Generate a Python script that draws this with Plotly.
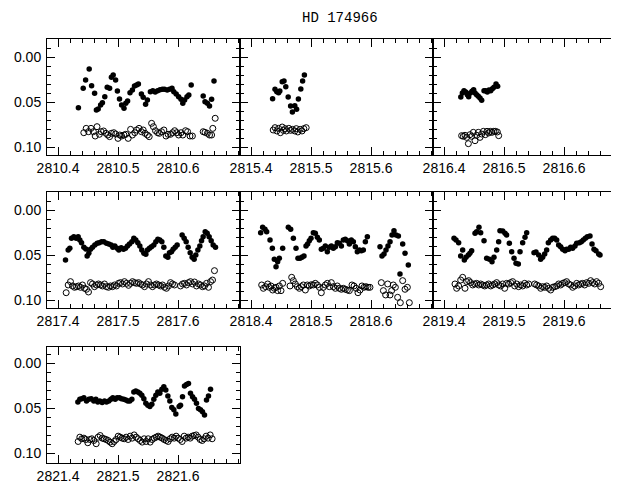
import plotly.graph_objects as go

# ---------------- data (fractional day, delta magnitude) ----------------
DAYS = [2810, 2815, 2816, 2817, 2818, 2819, 2821]
TITLE = "HD 174966"

p1_var_t = [.434,.442,.446,.452,.456,.461,.464,.467,.471,.474,.478,.482,.486,.489,.492,.496,.499,.5025,.506,.510,.513,.516,.520,.524,.5275,.531,.534,.539,.542,.546,.549,.554,.558,.562,.566,.570,.574,.5775,.582,.586,.590,.593,.597,.601,.605,.608,.611,.615,.618,.622,.642,.645,.649,.6525,.656,.660]
p1_var_m = [.0563,.0348,.0256,.0133,.0319,.0404,.0589,.0578,.0533,.0507,.0441,.0337,.0348,.0226,.0200,.0256,.0378,.0467,.0533,.0570,.0515,.0489,.0396,.0367,.0322,.0311,.0300,.0411,.0448,.0526,.0478,.0385,.0374,.0389,.0374,.0363,.0359,.0359,.0367,.0359,.0348,.0385,.0411,.0441,.0470,.0515,.0478,.0441,.0422,.0311,.0433,.0496,.0515,.0544,.0470,.0267]
p1_cmp_t = [.443,.447,.451,.455,.459,.462,.465,.469,.472,.476,.480,.483,.486,.489,.493,.496,.500,.503,.506,.510,.513,.517,.521,.524,.528,.531,.535,.539,.542,.545,.549,.552,.556,.559,.5625,.566,.569,.5725,.5765,.580,.5835,.5875,.591,.5945,.598,.601,.605,.608,.6125,.616,.620,.624,.642,.645,.649,.6525,.656,.658,.662]
p1_cmp_m = [.0841,.0793,.0830,.0793,.0830,.0878,.0774,.0859,.0830,.0822,.0848,.0867,.0885,.0848,.0841,.0856,.0904,.0867,.0878,.0867,.0859,.0904,.0804,.0867,.0841,.0811,.0793,.0830,.0811,.0848,.0867,.0885,.0737,.0774,.0819,.0841,.0848,.0830,.0811,.0878,.0859,.0859,.0841,.0819,.0841,.0867,.0841,.0867,.0819,.0830,.0878,.0878,.0830,.0837,.0848,.0867,.0867,.0793,.0681]

p2_var_t = [.436,.440,.443,.446,.448,.452,.455,.458,.462,.466,.469,.473,.476,.479,.483,.486,.489]
p2_var_m = [.0463,.0359,.0385,.0396,.0378,.0274,.0267,.0330,.0444,.0544,.0611,.0541,.0581,.0467,.0356,.0267,.0200]
p2_cmp_t = [.437,.440,.443,.446,.449,.452,.454,.457,.459,.463,.466,.469,.473,.4755,.478,.482,.485,.488,.492]
p2_cmp_m = [.0811,.0785,.0822,.0793,.0841,.0778,.0815,.0796,.0822,.0793,.0815,.0804,.0822,.0796,.0833,.0804,.0822,.0796,.0785]

p3_var_t = [.428,.4306,.4333,.4361,.4389,.4411,.4439,.4467,.4494,.4517,.4544,.4572,.46,.4628,.4667,.4694,.4722,.475,.4778,.4806,.4833,.4867,.4894]
p3_var_m = [.0444,.0400,.0374,.0389,.0419,.0441,.0400,.0381,.0363,.0400,.0419,.0437,.0456,.0481,.0374,.0374,.0389,.0367,.0374,.0352,.0337,.0300,.0326]
p3_cmp_t = [.4294,.4322,.435,.4378,.4406,.4433,.4461,.4489,.4517,.4544,.4572,.46,.4628,.4656,.4689,.4717,.4744,.4772,.48,.4828,.4856,.4889,.4911]
p3_cmp_m = [.0874,.0881,.0870,.0893,.0963,.0863,.0881,.0837,.0930,.0870,.0837,.0893,.0856,.0826,.0863,.0826,.0844,.0826,.0837,.0826,.0826,.0833,.0874]

p4_var_t = [.4125,.417,.4197,.4225,.4264,.4303,.4336,.4364,.4392,.4431,.4464,.4486,.4514,.4542,.4575,.4614,.4653,.4686,.4725,.4764,.4808,.4847,.4886,.4914,.4947,.4986,.5014,.5053,.5092,.5125,.5158,.5192,.5231,.5264,.5297,.5331,.5364,.5397,.5431,.5464,.5492,.5525,.5558,.5597,.5631,.5664,.5697,.5731,.5764,.5797,.5831,.5858,.5892,.5919,.5953,.5986,.6069,.6103,.6136,.6169,.6203,.6236,.6269,.6297,.6331,.6364,.6392,.6419,.6453,.6486,.6519,.6553,.6586,.6625]
p4_var_m = [.0556,.0444,.0426,.0315,.0296,.0315,.0296,.0333,.0363,.0415,.0433,.0511,.0481,.0437,.0415,.0389,.0370,.0363,.0352,.0352,.0370,.0378,.0389,.0415,.0400,.0426,.0444,.0419,.0437,.0426,.0400,.0378,.0352,.0315,.0333,.0363,.0400,.0444,.0481,.0493,.0444,.0426,.0407,.0389,.0352,.0326,.0333,.0352,.0415,.0511,.0526,.0474,.0463,.0437,.0415,.0389,.0278,.0315,.0352,.0415,.0474,.0526,.0548,.0500,.0444,.0400,.0341,.0296,.0241,.0259,.0296,.0341,.0389,.0415]
p4_cmp_t = [.4136,.417,.4208,.4242,.4275,.4308,.4342,.4375,.4408,.4442,.4475,.4508,.4542,.4575,.4608,.4642,.4675,.4708,.4742,.4775,.4808,.4842,.4875,.4908,.4942,.4975,.5008,.5042,.5075,.5108,.5142,.5175,.5208,.5242,.5275,.5308,.5342,.5375,.5408,.5442,.5475,.5508,.5542,.5575,.5608,.5642,.5675,.5708,.5742,.5775,.5808,.5842,.5875,.5908,.5942,.6042,.6075,.6108,.6142,.6175,.6208,.6242,.6275,.6308,.6342,.6375,.6408,.6442,.6475,.6508,.6542,.6575,.6608]
p4_cmp_m = [.0919,.0833,.0796,.0844,.0859,.0852,.0844,.0859,.0833,.0870,.0881,.0911,.0807,.0822,.0852,.0833,.0822,.0833,.0844,.0822,.0852,.0859,.0844,.0852,.0833,.0844,.0815,.0807,.0822,.0796,.0815,.0837,.0815,.0796,.0807,.0815,.0807,.0822,.0833,.0852,.0822,.0796,.0833,.0852,.0833,.0822,.0833,.0844,.0833,.0859,.0870,.0844,.0807,.0822,.0833,.0844,.0822,.0815,.0833,.0807,.0796,.0822,.0800,.0844,.0822,.0833,.0852,.0844,.0815,.0859,.0796,.0778,.0674]

p5_var_t = [.4161,.4194,.4233,.4261,.4317,.4356,.4389,.4417,.4444,.4472,.4528,.4622,.4661,.4706,.4750,.4783,.4817,.4850,.4883,.4917,.4944,.4972,.5000,.5039,.5072,.5106,.5139,.5172,.5206,.5239,.5272,.5306,.5339,.5372,.5406,.5439,.5472,.5506,.5539,.5572,.5606,.5639,.5672,.5706,.5739,.5772,.5806,.5839,.5872,.5906,.5939,.6150,.6183,.6217,.6250,.6283,.6317,.6350,.6383,.6417,.6456,.6483,.6528,.6567,.6622]
p5_var_m = [.0252,.0193,.0215,.0241,.0333,.0426,.0548,.0630,.0574,.0537,.0426,.0193,.0215,.0315,.0426,.0537,.0537,.0526,.0511,.0400,.0378,.0341,.0315,.0252,.0259,.0304,.0333,.0437,.0426,.0400,.0463,.0415,.0400,.0426,.0407,.0363,.0370,.0400,.0333,.0326,.0341,.0378,.0333,.0352,.0407,.0463,.0444,.0452,.0444,.0352,.0296,.0407,.0511,.0489,.0444,.0400,.0352,.0278,.0230,.0278,.0289,.0711,.0378,.0481,.0611]
p5_cmp_t = [.4178,.4206,.4244,.4278,.4306,.4333,.4361,.4389,.4417,.4444,.4472,.4500,.4528,.4650,.4678,.4706,.4739,.4772,.4806,.4839,.4872,.4906,.4939,.4972,.5006,.5039,.5072,.5106,.5139,.5172,.5206,.5239,.5272,.5306,.5339,.5372,.5406,.5439,.5472,.5506,.5539,.5572,.5606,.5639,.5683,.5717,.5750,.5783,.5817,.5850,.5883,.5917,.5950,.5983,.6172,.6206,.6244,.6278,.6317,.6344,.6372,.6406,.6444,.6489,.6528,.6567,.6606,.6639]
p5_cmp_m = [.0833,.0870,.0852,.0822,.0859,.0844,.0889,.0870,.0859,.0896,.0844,.0896,.0815,.0844,.0748,.0785,.0822,.0852,.0870,.0852,.0833,.0889,.0833,.0844,.0830,.0833,.0815,.0833,.0859,.0919,.0859,.0833,.0815,.0852,.0807,.0852,.0870,.0844,.0870,.0881,.0870,.0881,.0889,.0896,.0833,.0844,.0870,.0919,.0889,.0844,.0859,.0852,.0859,.0859,.0807,.0896,.0944,.0822,.0944,.0896,.0833,.0859,.0970,.1030,.0785,.0881,.0859,.1030]

p6_var_t = [.4167,.4200,.4244,.4278,.4311,.4339,.4367,.4406,.4433,.4461,.4517,.4544,.4583,.4611,.4667,.4711,.4756,.4800,.4833,.4878,.4911,.4933,.4978,.5017,.5044,.5089,.5128,.5167,.5200,.5239,.5267,.5311,.5350,.5378,.5500,.5533,.5578,.5611,.5644,.5678,.5711,.5739,.5778,.5811,.5844,.5878,.5911,.5944,.5978,.6017,.6044,.6078,.6111,.6144,.6183,.6211,.6256,.6289,.6322,.6356,.6389,.6433,.6467,.6500,.6533,.6578,.6600]
p6_var_m = [.0315,.0333,.0363,.0511,.0444,.0556,.0526,.0500,.0481,.0452,.0259,.0241,.0193,.0252,.0341,.0537,.0548,.0574,.0526,.0444,.0352,.0230,.0233,.0259,.0278,.0370,.0463,.0537,.0593,.0600,.0463,.0363,.0304,.0252,.0474,.0467,.0500,.0548,.0526,.0489,.0444,.0363,.0333,.0315,.0315,.0333,.0389,.0407,.0437,.0452,.0437,.0437,.0415,.0426,.0400,.0370,.0363,.0352,.0333,.0315,.0296,.0289,.0378,.0437,.0452,.0489,.0500]
p6_cmp_t = [.4183,.4211,.4244,.4278,.4311,.4350,.4378,.4411,.4444,.4478,.4511,.4544,.4578,.4611,.4644,.4678,.4711,.4744,.4778,.4811,.4844,.4878,.4911,.4944,.4978,.5011,.5044,.5078,.5111,.5144,.5178,.5211,.5244,.5278,.5311,.5344,.5378,.5411,.5511,.5544,.5578,.5611,.5644,.5678,.5711,.5744,.5778,.5811,.5844,.5878,.5911,.5944,.5978,.6011,.6044,.6078,.6111,.6144,.6178,.6211,.6244,.6278,.6311,.6344,.6378,.6411,.6444,.6478,.6511,.6544,.6578,.6611]
p6_cmp_m = [.0822,.0870,.0844,.0778,.0748,.0870,.0796,.0785,.0807,.0833,.0822,.0815,.0833,.0822,.0833,.0844,.0833,.0822,.0844,.0833,.0822,.0807,.0833,.0844,.0822,.0870,.0815,.0822,.0807,.0796,.0844,.0822,.0852,.0833,.0844,.0815,.0833,.0822,.0822,.0833,.0844,.0870,.0852,.0859,.0844,.0870,.0889,.0859,.0852,.0844,.0822,.0833,.0815,.0807,.0796,.0822,.0833,.0859,.0844,.0815,.0833,.0822,.0815,.0833,.0807,.0815,.0785,.0807,.0822,.0796,.0815,.0852]

p7_var_t = [.4331,.4364,.4397,.4431,.4475,.4514,.4553,.4597,.4631,.4664,.4697,.4736,.4775,.4808,.4847,.4881,.4914,.4953,.4986,.5025,.5058,.5097,.5131,.5164,.5197,.5231,.5264,.5297,.5331,.5364,.5397,.5431,.5464,.5497,.5531,.5564,.5597,.5631,.5664,.5697,.5731,.5764,.5797,.5831,.5864,.5897,.5931,.5964,.6019,.6042,.6075,.6108,.6142,.6175,.6208,.6242,.6275,.6308,.6342,.6375,.6408,.6442,.6475,.6508,.6542]
p7_var_m = [.0432,.0403,.0396,.0385,.0421,.0403,.0396,.0421,.0403,.0432,.0421,.0440,.0421,.0432,.0421,.0403,.0385,.0403,.0385,.0385,.0396,.0403,.0410,.0421,.0421,.0403,.0322,.0311,.0322,.0337,.0359,.0396,.0447,.0469,.0484,.0458,.0403,.0359,.0322,.0337,.0293,.0264,.0300,.0366,.0421,.0495,.0520,.0568,.0484,.0469,.0374,.0256,.0238,.0227,.0337,.0374,.0403,.0447,.0505,.0520,.0542,.0579,.0410,.0366,.0293]
p7_cmp_t = [.4336,.4364,.4397,.4431,.4464,.4497,.4531,.4564,.4597,.4636,.4669,.4703,.4736,.4769,.4803,.4836,.4869,.4903,.4936,.4969,.5003,.5036,.5069,.5103,.5136,.5169,.5203,.5236,.5269,.5303,.5336,.5369,.5403,.5436,.5469,.5503,.5536,.5569,.5603,.5636,.5669,.5703,.5736,.5769,.5803,.5836,.5869,.5903,.5936,.5969,.6003,.6036,.6069,.6103,.6136,.6169,.6203,.6236,.6269,.6303,.6336,.6369,.6403,.6436,.6469,.6503,.6536,.6569]
p7_cmp_m = [.0872,.0824,.0842,.0835,.0850,.0886,.0850,.0842,.0861,.0897,.0824,.0806,.0835,.0842,.0850,.0861,.0879,.0897,.0872,.0850,.0813,.0824,.0835,.0842,.0824,.0850,.0813,.0835,.0799,.0824,.0842,.0861,.0879,.0842,.0872,.0842,.0879,.0850,.0835,.0824,.0813,.0824,.0835,.0850,.0861,.0872,.0842,.0824,.0835,.0813,.0835,.0850,.0872,.0813,.0835,.0824,.0835,.0813,.0806,.0799,.0824,.0850,.0861,.0842,.0813,.0835,.0799,.0842]

X_TICK_FRACS = [0.4, 0.5, 0.6]
Y_TICKS = [0.0, 0.05, 0.10]
Y_TICK_TEXT = ["0.00", "0.05", "0.10"]

VAR_T = [p1_var_t, p2_var_t, p3_var_t, p4_var_t, p5_var_t, p6_var_t, p7_var_t]
VAR_M = [p1_var_m, p2_var_m, p3_var_m, p4_var_m, p5_var_m, p6_var_m, p7_var_m]
CMP_T = [p1_cmp_t, p2_cmp_t, p3_cmp_t, p4_cmp_t, p5_cmp_t, p6_cmp_t, p7_cmp_t]
CMP_M = [p1_cmp_m, p2_cmp_m, p3_cmp_m, p4_cmp_m, p5_cmp_m, p6_cmp_m, p7_cmp_m]

# ---------------- layout ----------------
# the page body adds an 8px margin, so the figure is 8px smaller and all
# target screen positions are shifted by -8px
OFF = 8
W, H = 619 - OFF, 487 - OFF
COL_PX = [(47, 240), (240, 433), (433, 619)]
ROW_PX = [(39, 155), (192, 308), (347, 463)]
ZERO_PX = [57, 210, 363]       # screen row of 0.00 in each row
PX_PER_DAY = 600.0
PX_PER_MAG = 900.0
LEFT_PAD = 11.0               # pixels from panel left edge to the .4 tick
POS = [(0, 0), (0, 1), (0, 2), (1, 0), (1, 1), (1, 2), (2, 0)]

FONT = "Liberation Sans"
fig = go.Figure()
layout = {}
for i, (r, c) in enumerate(POS):
    n = i + 1
    xa = "x" if n == 1 else f"x{n}"
    ya = "y" if n == 1 else f"y{n}"
    day = DAYS[i]
    fig.add_trace(go.Scatter(
        x=[day + t for t in VAR_T[i]], y=VAR_M[i], mode="markers",
        marker=dict(symbol="circle", size=5.5, color="black", line=dict(width=0)),
        xaxis=xa, yaxis=ya, showlegend=False, hoverinfo="skip"))
    fig.add_trace(go.Scatter(
        x=[day + t for t in CMP_T[i]], y=CMP_M[i], mode="markers",
        marker=dict(symbol="circle-open", size=6, color="black", line=dict(width=1, color="black")),
        xaxis=xa, yaxis=ya, showlegend=False, hoverinfo="skip"))

    x0, x1 = COL_PX[c]
    y0, y1 = ROW_PX[r]
    xmin = day + 0.4 - LEFT_PAD / PX_PER_DAY
    xmax = xmin + (x1 - x0) / PX_PER_DAY
    ytop = (y0 - ZERO_PX[r]) / PX_PER_MAG
    ybot = (y1 - ZERO_PX[r]) / PX_PER_MAG

    common = dict(
        ticks="inside", ticklen=8, tickwidth=1, tickcolor="black",
        showline=True, linecolor="black", linewidth=1, mirror="ticks",
        showgrid=False, zeroline=False,
        tickfont=dict(family=FONT, size=14, color="black"),
    )
    layout["xaxis" if n == 1 else f"xaxis{n}"] = dict(
        domain=[(x0 - OFF) / W, min(1.0, (x1 - OFF) / W)], range=[xmin, xmax], anchor=ya,
        tickmode="array",
        tickvals=[day + f for f in X_TICK_FRACS],
        ticktext=[f"{day}.{int(round(f*10))}" for f in X_TICK_FRACS],
        minor=dict(ticks="inside", ticklen=4, tickwidth=1, tickcolor="black",
                   tick0=day + 0.4, dtick=0.02, showgrid=False),
        **common)
    layout["yaxis" if n == 1 else f"yaxis{n}"] = dict(
        domain=[1 - (y1 - OFF) / H, 1 - (y0 - OFF) / H], range=[ybot, ytop], anchor=xa,
        tickmode="array", tickvals=Y_TICKS, ticktext=Y_TICK_TEXT,
        showticklabels=(c == 0),
        ticklabelstandoff=2,
        minor=dict(ticks="inside", ticklen=4, tickwidth=1, tickcolor="black",
                   tick0=0, dtick=0.01, showgrid=False),
        **common)

fig.update_layout(
    width=W, height=H,
    margin=dict(l=0, r=0, t=0, b=0, autoexpand=False),
    paper_bgcolor="white", plot_bgcolor="white",
    annotations=[dict(text=TITLE, x=(340 - OFF) / W, y=1.0, xref="paper", yref="paper",
                      showarrow=False, xanchor="center", yanchor="top",
                      font=dict(family="Liberation Mono", size=14, color="black"))],
    **layout,
)
fig.write_html("out.html")
